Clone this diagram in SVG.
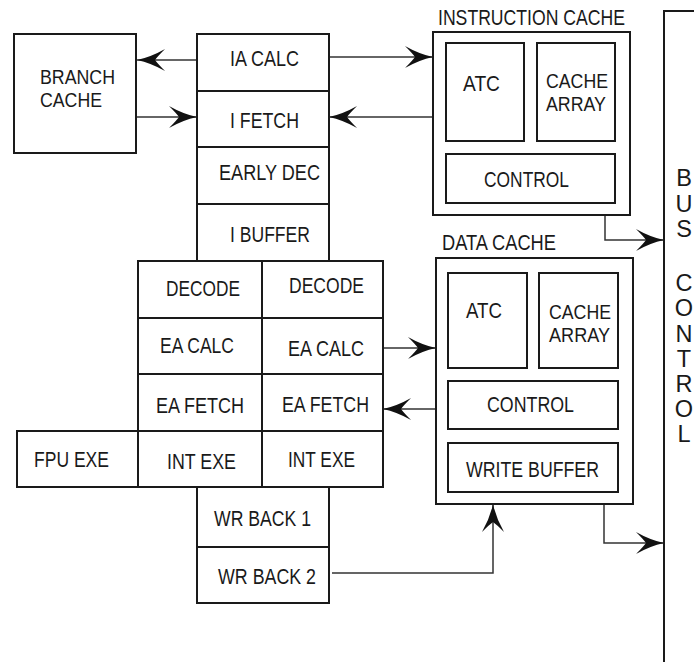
<svg xmlns="http://www.w3.org/2000/svg" width="694" height="662" viewBox="0 0 694 662">
<style>
.b{fill:none;stroke:#1a1a1a;stroke-width:2}
.c{fill:none;stroke:#333;stroke-width:1.5}
text{font-family:"Liberation Sans",Arial,sans-serif;font-size:22px;fill:#1a1a1a}
.t{font-size:19.5px}
.v{font-size:23.5px;text-anchor:middle}
</style>
<defs>
<marker id="ah" markerUnits="userSpaceOnUse" viewBox="0 -12 30 24" refX="30" refY="0" markerWidth="30" markerHeight="24" orient="auto">
<path d="M30,0 Q16,-3 2,-11 Q10,-3 12,0 Q10,3 2,11 Q16,3 30,0 Z" fill="#111"/>
</marker>
</defs>
<rect width="694" height="662" fill="#fff"/>
<g id="connectors">
<path class="c" d="M197,60 H137" marker-end="url(#ah)"/>
<path class="c" d="M329,57 H433" marker-end="url(#ah)"/>
<path class="c" d="M136,117 H197" marker-end="url(#ah)"/>
<path class="c" d="M433,117 H329" marker-end="url(#ah)"/>
<path class="c" d="M605,215 V240 H664" marker-end="url(#ah)"/>
<path class="c" d="M383,348 H436" marker-end="url(#ah)"/>
<path class="c" d="M436,409 H383" marker-end="url(#ah)"/>
<path class="c" d="M332,573 H493 V504" marker-end="url(#ah)"/>
<path class="c" d="M604,504 V543 H664" marker-end="url(#ah)"/>
</g>
<g id="branch-cache">
<rect class="b" x="14" y="34" width="122" height="119"/>
<text class="t" x="40" y="83.5" textLength="75" lengthAdjust="spacingAndGlyphs">BRANCH</text>
<text class="t" x="40" y="106.5" textLength="62" lengthAdjust="spacingAndGlyphs">CACHE</text>
</g>
<g id="ia-calc">
<rect class="b" x="197" y="34" width="132" height="57"/>
<text x="230" y="66" textLength="69" lengthAdjust="spacingAndGlyphs">IA CALC</text>
</g>
<g id="i-fetch">
<rect class="b" x="197" y="91" width="132" height="56"/>
<text x="230" y="128" textLength="69" lengthAdjust="spacingAndGlyphs">I FETCH</text>
</g>
<g id="early-dec">
<rect class="b" x="197" y="147" width="132" height="57"/>
<text x="219" y="180" textLength="101" lengthAdjust="spacingAndGlyphs">EARLY DEC</text>
</g>
<g id="i-buffer">
<rect class="b" x="197" y="204" width="132" height="57"/>
<text x="230" y="242" textLength="80" lengthAdjust="spacingAndGlyphs">I BUFFER</text>
</g>
<g id="decode-l">
<rect class="b" x="138" y="261" width="124" height="57"/>
<text x="166" y="296" textLength="74" lengthAdjust="spacingAndGlyphs">DECODE</text>
</g>
<g id="decode-r">
<rect class="b" x="262" y="261" width="121" height="57"/>
<text x="289" y="293" textLength="75" lengthAdjust="spacingAndGlyphs">DECODE</text>
</g>
<g id="ea-calc-l">
<rect class="b" x="138" y="318" width="124" height="56"/>
<text x="160" y="353" textLength="74" lengthAdjust="spacingAndGlyphs">EA CALC</text>
</g>
<g id="ea-calc-r">
<rect class="b" x="262" y="318" width="121" height="56"/>
<text x="288" y="356" textLength="76" lengthAdjust="spacingAndGlyphs">EA CALC</text>
</g>
<g id="ea-fetch-l">
<rect class="b" x="138" y="374" width="124" height="57"/>
<text x="156" y="413" textLength="88" lengthAdjust="spacingAndGlyphs">EA FETCH</text>
</g>
<g id="ea-fetch-r">
<rect class="b" x="262" y="374" width="121" height="57"/>
<text x="282" y="412" textLength="87" lengthAdjust="spacingAndGlyphs">EA FETCH</text>
</g>
<g id="fpu-exe">
<rect class="b" x="17" y="431" width="121" height="56"/>
<text x="34" y="467" textLength="75" lengthAdjust="spacingAndGlyphs">FPU EXE</text>
</g>
<g id="int-exe-l">
<rect class="b" x="138" y="431" width="124" height="56"/>
<text x="167" y="469" textLength="69" lengthAdjust="spacingAndGlyphs">INT EXE</text>
</g>
<g id="int-exe-r">
<rect class="b" x="262" y="431" width="121" height="56"/>
<text x="288" y="467" textLength="67" lengthAdjust="spacingAndGlyphs">INT EXE</text>
</g>
<g id="wr-back-1">
<rect class="b" x="197" y="487" width="132" height="60"/>
<text x="214" y="526" textLength="97" lengthAdjust="spacingAndGlyphs">WR BACK 1</text>
</g>
<g id="wr-back-2">
<rect class="b" x="197" y="547" width="132" height="56"/>
<text x="218" y="584" textLength="98" lengthAdjust="spacingAndGlyphs">WR BACK 2</text>
</g>
<g id="instruction-cache">
<text x="438" y="25" textLength="187" lengthAdjust="spacingAndGlyphs">INSTRUCTION CACHE</text>
<rect class="b" x="433" y="32" width="197" height="183"/>
<rect class="b" x="446" y="43" width="78" height="98"/>
<text x="463" y="91" textLength="37" lengthAdjust="spacingAndGlyphs">ATC</text>
<rect class="b" x="537" y="43" width="78" height="98"/>
<text class="t" x="546" y="87.5" textLength="62" lengthAdjust="spacingAndGlyphs">CACHE</text>
<text class="t" x="546" y="110.5" textLength="60" lengthAdjust="spacingAndGlyphs">ARRAY</text>
<rect class="b" x="446" y="154" width="169" height="49"/>
<text x="484" y="187" textLength="85" lengthAdjust="spacingAndGlyphs">CONTROL</text>
</g>
<g id="data-cache">
<text x="442" y="250" textLength="114" lengthAdjust="spacingAndGlyphs">DATA CACHE</text>
<rect class="b" x="436" y="258" width="197" height="246"/>
<rect class="b" x="448" y="273" width="79" height="95"/>
<text x="466" y="318" textLength="36" lengthAdjust="spacingAndGlyphs">ATC</text>
<rect class="b" x="539" y="273" width="79" height="95"/>
<text class="t" x="549" y="318.5" textLength="62" lengthAdjust="spacingAndGlyphs">CACHE</text>
<text class="t" x="549" y="341.5" textLength="61" lengthAdjust="spacingAndGlyphs">ARRAY</text>
<rect class="b" x="448" y="381" width="170" height="48"/>
<text x="487" y="412" textLength="87" lengthAdjust="spacingAndGlyphs">CONTROL</text>
<rect class="b" x="448" y="443" width="170" height="49"/>
<text x="466" y="477" textLength="133" lengthAdjust="spacingAndGlyphs">WRITE BUFFER</text>
</g>
<g id="bus-control">
<rect class="b" x="664" y="11" width="100" height="700"/>
<text class="v" x="684" y="186">B</text>
<text class="v" x="684" y="211.5">U</text>
<text class="v" x="684" y="237">S</text>
<text class="v" x="684" y="291">C</text>
<text class="v" x="684" y="316">O</text>
<text class="v" x="684" y="341.5">N</text>
<text class="v" x="684" y="367">T</text>
<text class="v" x="684" y="392">R</text>
<text class="v" x="684" y="417">O</text>
<text class="v" x="684" y="442">L</text>
</g>
</svg>
